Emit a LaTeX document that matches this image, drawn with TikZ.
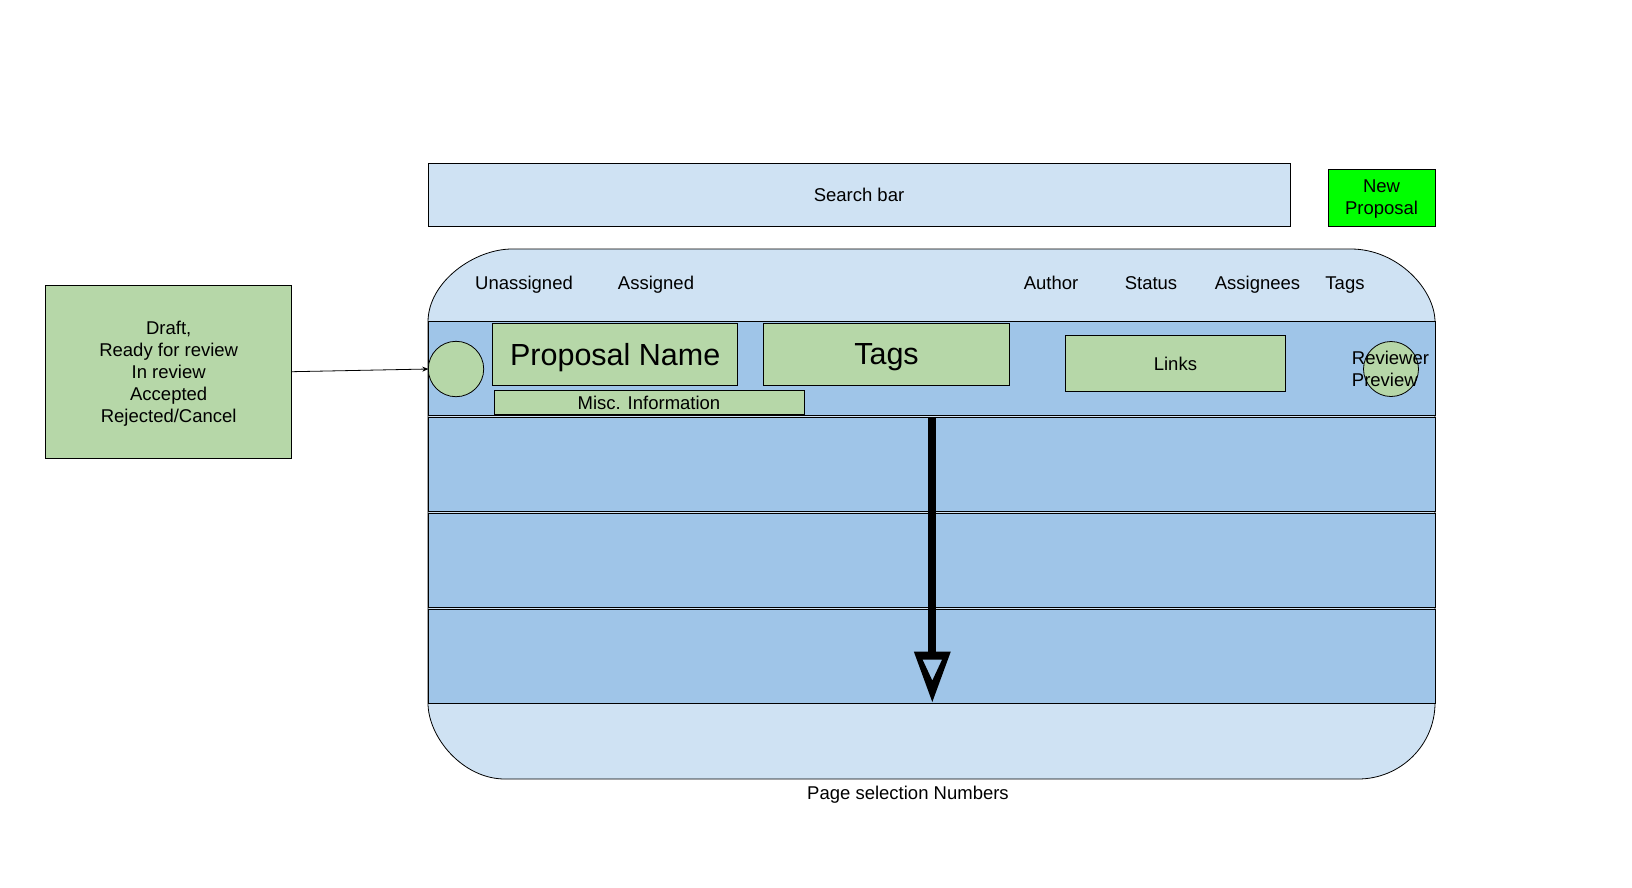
\documentclass[tikz,border=0pt]{standalone}
\usepackage{fontspec}
\setmainfont{Liberation Sans}
\usetikzlibrary{arrows.meta}
\definecolor{lb}{HTML}{CFE2F3}
\definecolor{mb}{HTML}{9FC5E8}
\definecolor{gr}{HTML}{B6D7A8}
\definecolor{ng}{HTML}{00FF00}
\begin{document}
\begin{tikzpicture}[x=1pt,y=-1pt,line width=0.8pt,
  txt/.style={font=\fontsize{18.5}{21.8}\selectfont,inner sep=0,align=center,text depth=0pt},
  hdr/.style={font=\fontsize{18.5}{21.8}\selectfont,inner sep=0,anchor=base},
  boxbase/.style={draw=black,line width=0.8pt,inner sep=0,outer sep=0,align=center,text depth=0pt,font=\fontsize{18.5}{21.8}\selectfont},
  gbox/.style={boxbase,fill=gr},
  rowbox/.style={boxbase,fill=mb,minimum width=1007,minimum height=94},
  gcirc/.style={draw=black,line width=0.8pt,fill=gr,circle,inner sep=0,outer sep=0,minimum size=55}]
\useasboundingbox (0,0) rectangle (1632,887);
% search bar and new proposal
\node[boxbase,fill=lb,minimum width=862,minimum height=63] (search) at (859,194.5) {Search bar};
\node[boxbase,fill=ng,minimum width=107,minimum height=57] (newp) at (1381.5,197.5) {New\\Proposal};
% big rounded panel
\draw[fill=lb] (428,322) .. controls (428,281.7) and (474.4,249) .. (512,249)
  -- (1351,249) .. controls (1397.4,249) and (1435,289.3) .. (1435,322)
  -- (1435,703) .. controls (1435,745) and (1400.5,779) .. (1358,779)
  -- (505,779) .. controls (462.5,779) and (428,737) .. (428,703) -- cycle;
% header labels
\node[hdr] (hUn) at (524,289.6) {Unassigned};
\node[hdr] (hAs) at (656,289.6) {Assigned};
\node[hdr] (hAu) at (1051,289.6) {Author};
\node[hdr] (hSt) at (1151,289.6) {Status};
\node[hdr] (hAg) at (1257.5,289.6) {Assignees};
\node[hdr] (hTg) at (1345,289.6) {Tags};
% rows
\node[rowbox,minimum height=94.3] (row1) at (931.5,368.2) {};
\node[rowbox] (row2) at (931.5,464) {};
\node[rowbox] (row3) at (931.5,560) {};
\node[rowbox] (row4) at (931.5,656) {};
% row 1 content
\node[gcirc,minimum size=55.4] (circL) at (456,369) {};
\node[gbox,minimum width=245,minimum height=62,font=\fontsize{30.5}{34}\selectfont] (pname) at (615.2,354.3) {Proposal Name};
\node[gbox,minimum width=246.4,minimum height=62,font=\fontsize{30.5}{34}\selectfont] (ptags) at (886.5,354.3) {Tags};
\node[gbox,minimum width=310,minimum height=24.5] (misc) at (649,402.6) {Misc. Information};
\node[gbox,minimum width=220.7,minimum height=56] (links) at (1175.4,363.7) {Links};
\node[gcirc] (circR) at (1391,369) {};
\node[font=\fontsize{18.5}{21.8}\selectfont,inner sep=0,anchor=west,align=left] (revtxt) at (1351.5,368.5) {Reviewer\\Preview};
% state box
\node[gbox,minimum width=246,minimum height=173] (state) at (168.7,371.7) {Draft,\\Ready for review\\In review\\Accepted\\Rejected/Cancel};
\draw[-{Stealth[length=6,width=5]},line width=0.8pt] (state.east) -- (circL.west);
% big scroll arrow
\coordinate (arrS) at (932.3,417);
\coordinate (arrH) at (932.3,652);
\draw[line width=8pt] (arrS) -- (arrH);
\fill[even odd rule] (arrH) ++(-18.5,-0.5) -- ++(37,0) -- ++(-18.5,50.5) -- cycle
  (arrH) ++(-9.8,7.5) -- ++(19.6,0) -- ++(-9.8,21) -- cycle;
% page selection
\node[txt] (pages) at (908,793) {Page selection Numbers};
\end{tikzpicture}
\end{document}
